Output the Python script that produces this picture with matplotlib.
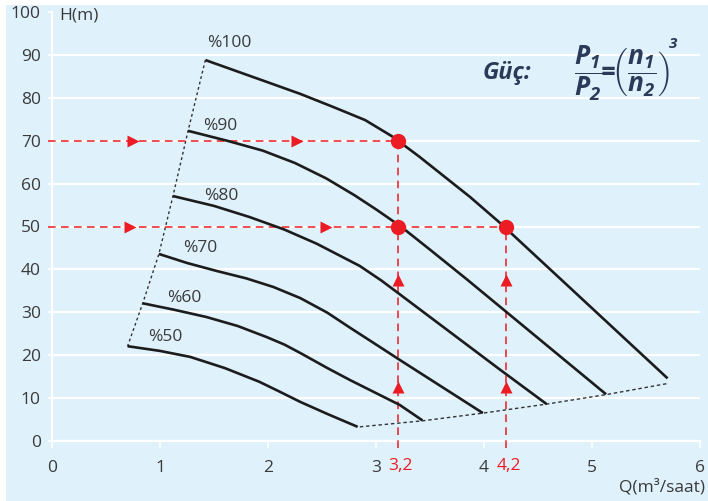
import matplotlib
matplotlib.use("Agg")
import matplotlib.pyplot as plt
from matplotlib.patches import Rectangle

# pump curves at different speeds (Q in m3/saat, H in m)
q100 = [1.42, 2.00, 2.30, 2.60, 2.90, 3.15, 3.40, 3.65, 3.87, 4.15, 4.72, 5.70]
h100 = [88.8, 83.6, 80.9, 77.9, 74.8, 71.0, 66.3, 61.3, 56.9, 50.8, 37.5, 14.6]
q90 = [1.26, 1.62, 1.95, 2.25, 2.54, 2.80, 3.00, 3.23, 3.50, 3.85, 5.13]
h90 = [72.3, 70.0, 67.7, 64.8, 61.2, 57.3, 54.0, 50.0, 44.6, 37.5, 10.9]
q80 = [1.12, 1.50, 1.83, 2.15, 2.45, 2.85, 3.05, 3.22, 4.15, 4.58]
h80 = [57.1, 54.8, 52.2, 49.3, 46.0, 40.8, 37.4, 34.2, 16.6, 8.6]
q70 = [0.99, 1.25, 1.53, 1.80, 2.05, 2.30, 2.55, 2.76, 3.00, 3.22, 3.99]
h70 = [43.6, 41.5, 39.6, 37.9, 35.9, 33.3, 29.9, 26.4, 22.5, 18.9, 6.5]
q60 = [0.84, 1.13, 1.43, 1.72, 1.99, 2.15, 2.30, 2.55, 2.76, 3.22, 3.43]
h60 = [32.1, 30.6, 28.9, 26.8, 24.2, 22.5, 20.5, 17.0, 14.2, 8.4, 4.8]
q50 = [0.70, 1.00, 1.28, 1.60, 1.92, 2.10, 2.30, 2.55, 2.83]
h50 = [22.1, 21.0, 19.6, 17.0, 13.8, 11.6, 9.1, 6.3, 3.3]
curve_labels = ["%100", "%90", "%80", "%70", "%60", "%50"]
label_q = [1.44, 1.40, 1.41, 1.21, 1.07, 0.89]
label_h = [92.8, 73.4, 57.0, 45.0, 33.3, 24.2]

# right-hand envelope (ends of curves)
env_q = [2.85, 3.43, 3.99, 4.58, 5.15, 5.70]
env_h = [3.3, 4.7, 6.5, 8.6, 10.9, 13.4]

# operating points
op_q = [3.2, 3.2, 4.2]
op_h = [70, 50, 50]

xticks = [0, 1, 2, 3, 4, 5, 6]
yticks = [0, 10, 20, 30, 40, 50, 60, 70, 80, 90, 100]

BG = "#dff1fb"
RED = "#ec1c24"
TXT = "#3a3a3a"
NAVY = "#2a3a58"

plt.rcParams["font.family"] = ["Open Sans", "DejaVu Sans"]
plt.rcParams["mathtext.fontset"] = "custom"
plt.rcParams["mathtext.it"] = "Open Sans:italic:bold"
plt.rcParams["mathtext.rm"] = "Open Sans:italic:bold"
plt.rcParams["mathtext.bf"] = "Open Sans:italic:bold"

fig = plt.figure(figsize=(7.08, 5.01), dpi=100)
fig.patch.set_facecolor("white")
fig.patches.append(Rectangle((6 / 708, 0), 1 - 6 / 708, 1 - 5 / 501,
                             transform=fig.transFigure, facecolor=BG,
                             edgecolor="none", zorder=-10))
ax = fig.add_axes([52 / 708, 1 - 441 / 501, 648 / 708, 429 / 501])
ax.set_facecolor("none")
ax.set_xlim(0, 6)
ax.set_ylim(0, 100)

for s in ("top", "right"):
    ax.spines[s].set_visible(False)
for s in ("left", "bottom"):
    ax.spines[s].set_color("white")
    ax.spines[s].set_linewidth(1.6)

ax.set_xticks(xticks)
ax.set_yticks(yticks)
ax.tick_params(axis="x", colors="white", length=5, width=1.2, pad=9,
               labelsize=12.5, labelcolor=TXT)
ax.tick_params(axis="y", colors="white", length=3, width=1.2, pad=5,
               labelsize=12.5, labelcolor=TXT)
ax.grid(axis="y", color="white", linewidth=1.6)
ax.get_ygridlines()[-1].set_visible(False)
ax.set_axisbelow(True)

# dotted envelopes
starts_q = [q100[0], q90[0], q80[0], q70[0], q60[0], q50[0]]
starts_h = [h100[0], h90[0], h80[0], h70[0], h60[0], h50[0]]
ax.plot(starts_q, starts_h, color="#333333", lw=1.0, ls=(0, (2, 2)), zorder=2)
ax.plot(env_q, env_h, color="#333333", lw=1.0, ls=(0, (2.5, 2)), zorder=2)

# red guide lines
dash = (0, (5, 3.5))
ax.plot([-0.04, 3.2], [70, 70], color=RED, lw=1.1, ls=dash, zorder=3, clip_on=False)
ax.plot([-0.04, 4.2], [50, 50], color=RED, lw=1.1, ls=dash, zorder=3, clip_on=False)
ax.plot([3.2, 3.2], [-1.6, 70], color=RED, lw=1.1, ls=dash, zorder=3, clip_on=False)
ax.plot([4.2, 4.2], [-1.6, 50], color=RED, lw=1.1, ls=dash, zorder=3, clip_on=False)
ax.plot([0.75, 2.27], [70, 70], ">", color=RED, ms=8, mec="none", zorder=4)
ax.plot([0.72, 2.54], [50, 50], ">", color=RED, ms=8, mec="none", zorder=4)
ax.plot([3.2, 3.2, 4.2, 4.2], [37.5, 12.6, 37.5, 12.6], "^", color=RED, ms=8,
        mec="none", zorder=4)

# pump curves
for q, h in ((q100, h100), (q90, h90), (q80, h80), (q70, h70), (q60, h60), (q50, h50)):
    ax.plot(q, h, color="#1c1c1c", lw=1.9, solid_capstyle="butt",
            solid_joinstyle="round", zorder=5)
for t, x, y in zip(curve_labels, label_q, label_h):
    ax.text(x, y, t, fontsize=12.5, color=TXT, ha="left", va="center", zorder=6)

ax.plot(op_q, op_h, "o", color=RED, ms=11, mec="none", zorder=7)

# red x labels, on the same line as the tick labels
for x in (3.2, 4.2):
    ax.annotate(f"{x:.1f}".replace(".", ","), (x, 0), xytext=(3, -25),
                textcoords="offset pixels", ha="center", va="center",
                color=RED, fontsize=12.5, annotation_clip=False)

ax.text(0.065, 99.3, "H(m)", fontsize=12.5, color=TXT, ha="left", va="center")
fig.text(705 / 708, 1 - 487 / 501, "Q(m³/saat)", fontsize=12.5, color=TXT,
         ha="right", va="center")

# power affinity law
fig.text(483 / 708, 1 - 73 / 501, "Güç:", fontsize=17, fontweight="bold",
         fontstyle="italic", color=NAVY, ha="left", va="center")
fig.text(574 / 708, 1 - 73 / 501,
         r"$\dfrac{P_1}{P_2}\!\!=\!\!\left(\dfrac{n_1}{n_2}\right)$",
         fontsize=19, color=NAVY, ha="left", va="center")
fig.text(669 / 708, 1 - 44 / 501, "3", fontsize=11, fontweight="bold",
         fontstyle="italic", color=NAVY, ha="left", va="center")

fig.savefig("out.png", dpi=100, facecolor=fig.get_facecolor())
